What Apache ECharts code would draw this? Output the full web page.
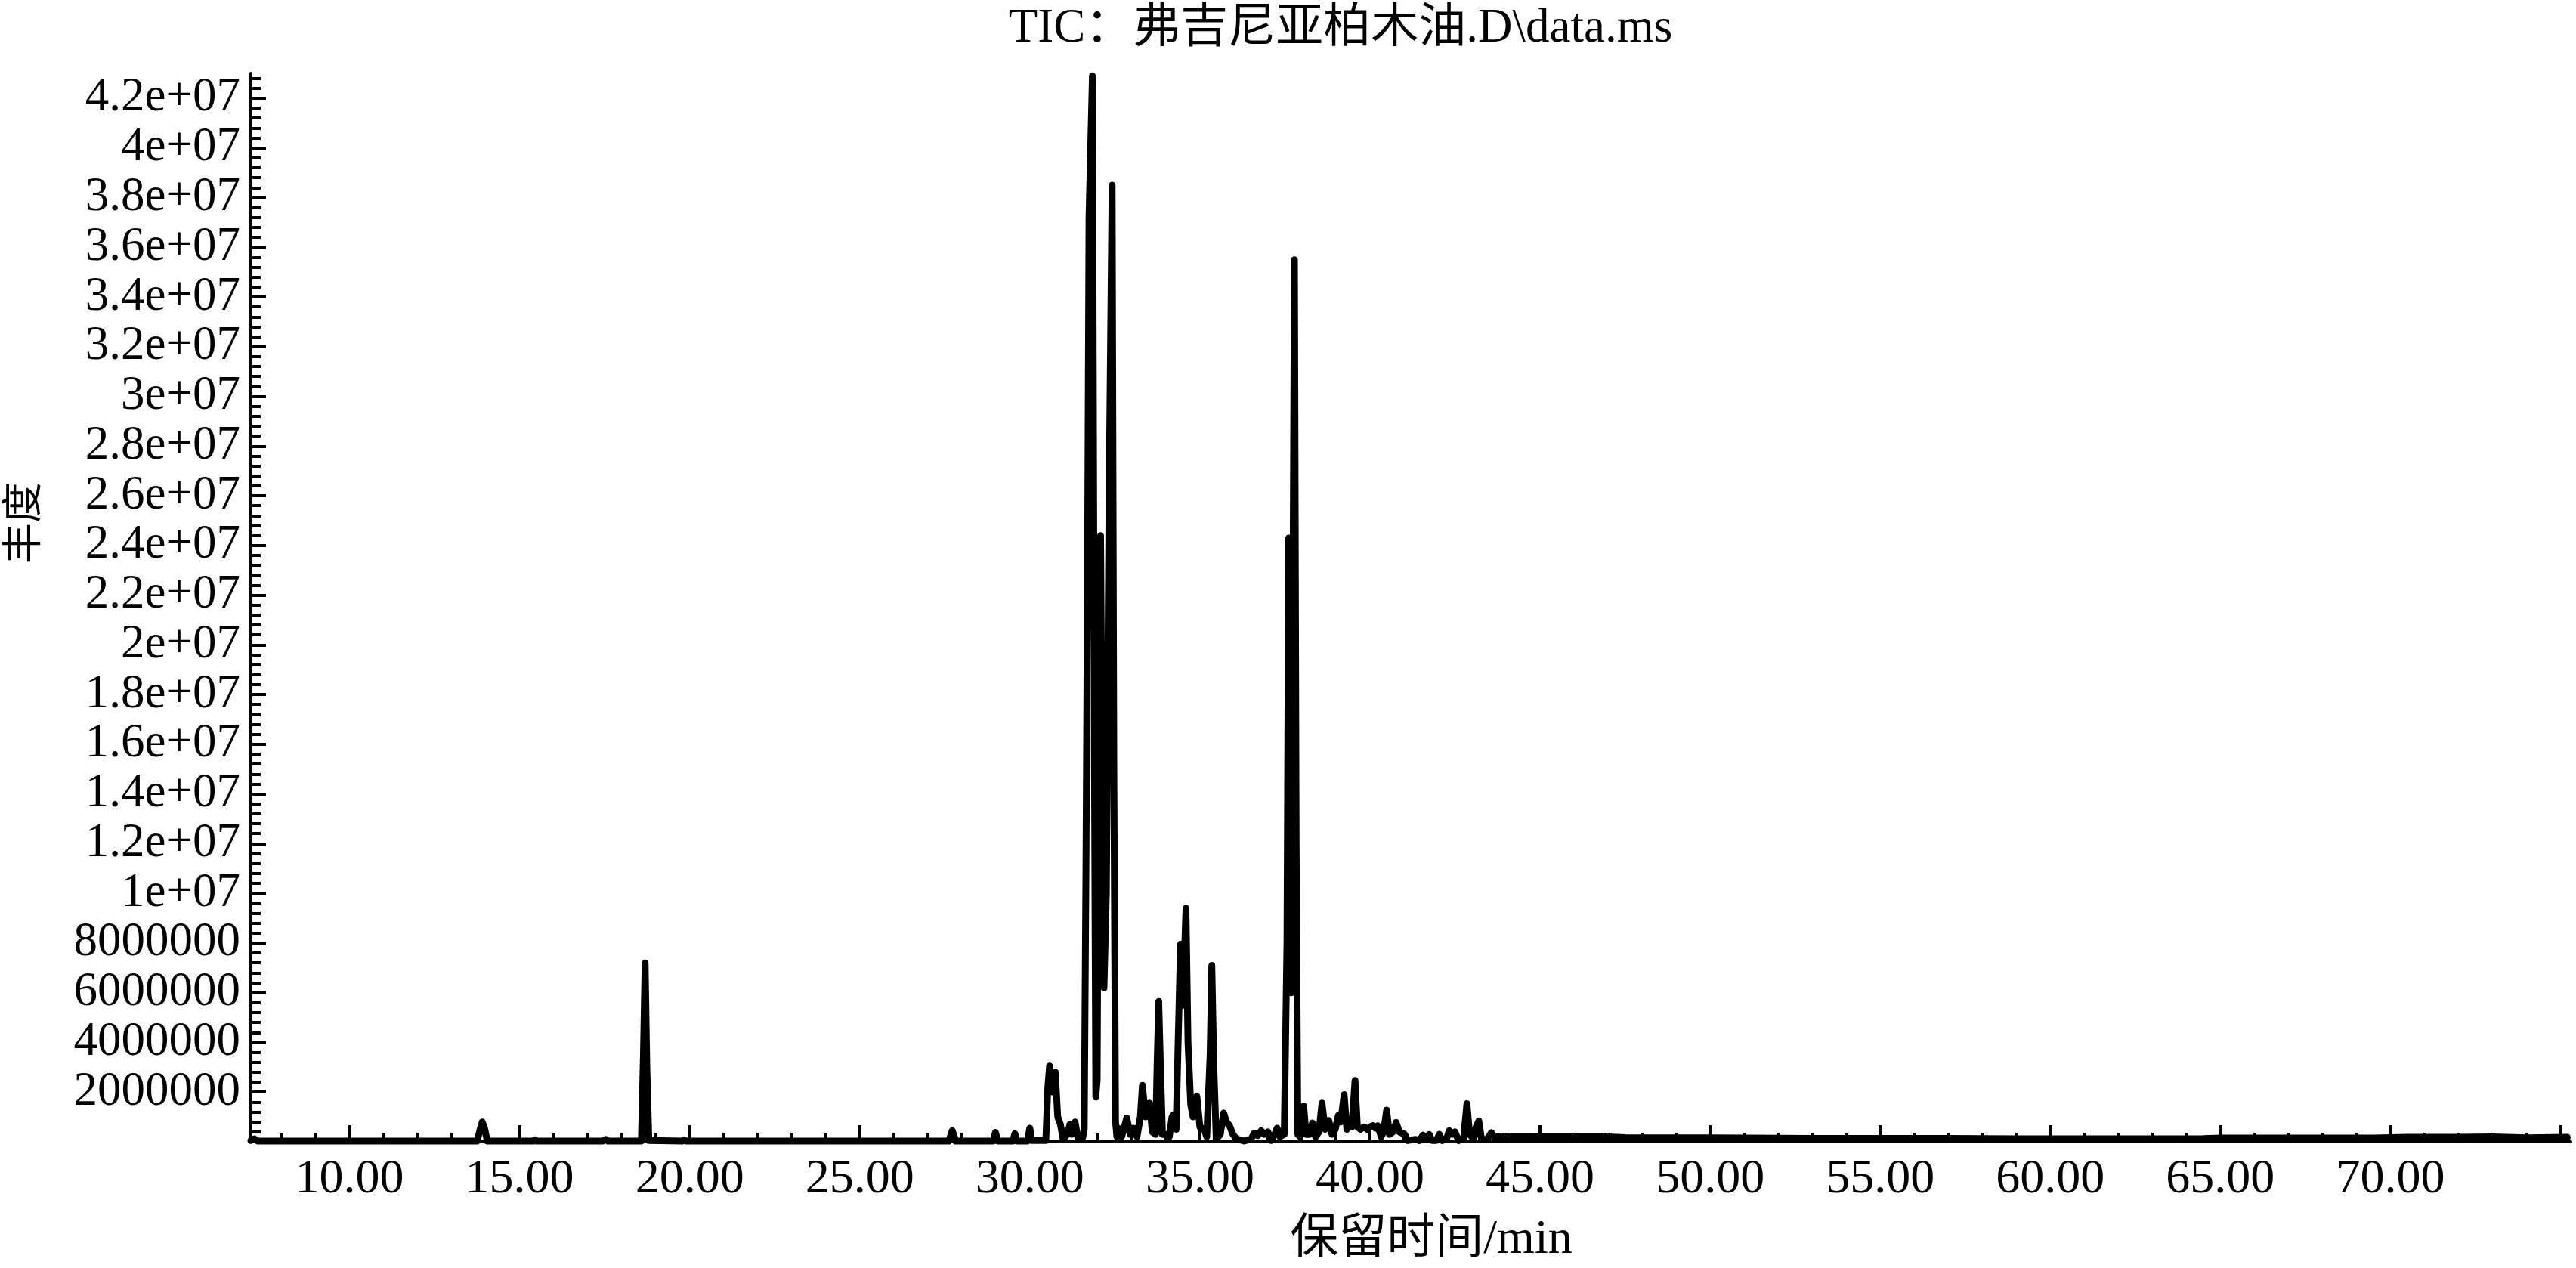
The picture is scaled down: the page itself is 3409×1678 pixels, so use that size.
<!DOCTYPE html>
<html>
<head>
<meta charset="utf-8">
<script src="https://cdn.jsdelivr.net/npm/echarts@6/dist/echarts.min.js"></script>
<style>html,body{margin:0;padding:0;background:#fff;}#c{width:3409px;height:1678px;}</style>
</head>
<body>
<div id="c"></div>
<script>
// ---- data ----
const chartTitle = 'TIC：弗吉尼亚柏木油.D\\data.ms';
const xName = '保留时间/min';
const yName = '丰度';

const retentionTime = [
  7.1, 7.2, 7.3, 13.75, 13.85, 13.9, 13.96, 14.05, 15.4, 15.45, 15.5, 17.45, 17.53, 17.6,
  18.58, 18.64, 18.69, 18.74, 18.8, 19.78, 19.83, 19.9, 27.62, 27.72, 27.82, 28.92, 28.99, 29.06,
  29.5, 29.56, 29.62, 29.93, 30.0, 30.06, 30.47, 30.53, 30.58, 30.68, 30.75, 30.82, 30.9, 30.98,
  31.1, 31.18, 31.24, 31.33, 31.42, 31.55, 31.6, 31.65, 31.7, 31.74, 31.84, 31.9, 31.94, 31.98,
  32.02, 32.08, 32.13, 32.18, 32.25, 32.33, 32.42, 32.47, 32.52, 32.56, 32.6, 32.7, 32.85, 32.95,
  33.05, 33.15, 33.25, 33.31, 33.4, 33.52, 33.6, 33.7, 33.74, 33.79, 33.84, 33.9, 34.02, 34.1,
  34.18, 34.22, 34.3, 34.36, 34.43, 34.5, 34.59, 34.65, 34.73, 34.8, 34.91, 35.0, 35.13, 35.2,
  35.3, 35.35, 35.41, 35.48, 35.6, 35.7, 35.78, 35.87, 35.97, 36.07, 36.3, 36.5, 36.6, 36.7,
  36.8, 36.9, 37.0, 37.1, 37.2, 37.27, 37.35, 37.48, 37.56, 37.61, 37.66, 37.69, 37.73, 37.78,
  37.83, 37.88, 37.95, 38.05, 38.12, 38.22, 38.31, 38.4, 38.5, 38.59, 38.68, 38.79, 38.88, 38.98,
  39.07, 39.14, 39.24, 39.32, 39.4, 39.47, 39.56, 39.63, 39.72, 39.83, 39.92, 40.0, 40.08, 40.16,
  40.23, 40.33, 40.4, 40.49, 40.57, 40.68, 40.77, 40.86, 41.02, 41.1, 41.34, 41.45, 41.56, 41.65,
  41.74, 41.82, 41.95, 42.04, 42.12, 42.25, 42.33, 42.42, 42.5, 42.6, 42.75, 42.85, 42.93, 43.05,
  43.12, 43.2, 43.28, 43.45, 43.57, 43.66, 43.72, 44.5, 47.0, 47.5, 50.0, 53.0, 55.0, 57.0,
  59.0, 62.0, 64.5, 65.0, 67.0, 69.5, 70.5, 72.0, 73.0, 74.0, 75.2
];
const abundance = [
  0.05e6, 0.12e6, 0.03e6, 0.03e6, 0.55e6, 0.8e6, 0.6e6, 0.03e6, 0.03e6, 0.08e6, 0.03e6, 0.03e6, 0.1e6, 0.03e6,
  0.03e6, 3.5e6, 7.2e6, 3.0e6, 0.05e6, 0.03e6, 0.08e6, 0.03e6, 0.03e6, 0.45e6, 0.03e6, 0.03e6, 0.38e6, 0.03e6,
  0.03e6, 0.33e6, 0.03e6, 0.03e6, 0.55e6, 0.05e6, 0.05e6, 2.2e6, 3.05e6, 2.0e6, 2.8e6, 1.0e6, 0.7e6, 0.1e6,
  0.3e6, 0.7e6, 0.3e6, 0.8e6, 0.1e6, 0.15e6, 0.5e6, 11e6, 24e6, 37.2e6, 42.9e6, 15e6, 1.8e6, 2.5e6,
  15e6, 24.4e6, 14e6, 6.2e6, 10e6, 26e6, 38.5e6, 15e6, 0.8e6, 0.2e6, 0.55e6, 0.2e6, 0.96e6, 0.3e6,
  0.55e6, 0.2e6, 1.0e6, 2.27e6, 1.0e6, 1.56e6, 0.4e6, 0.3e6, 3.0e6, 5.65e6, 3.0e6, 0.3e6, 0.3e6, 0.2e6,
  1.0e6, 1.08e6, 0.5e6, 4.0e6, 7.95e6, 5.5e6, 9.4e6, 4.0e6, 1.5e6, 1.0e6, 1.83e6, 0.6e6, 0.5e6, 0.2e6,
  3.5e6, 7.1e6, 3.0e6, 0.1e6, 0.3e6, 1.16e6, 0.8e6, 0.65e6, 0.3e6, 0.12e6, 0.03e6, 0.1e6, 0.35e6, 0.25e6,
  0.45e6, 0.3e6, 0.4e6, 0.05e6, 0.3e6, 0.55e6, 0.2e6, 0.3e6, 8e6, 24.3e6, 12e6, 6e6, 20e6, 35.5e6,
  12e6, 0.3e6, 0.2e6, 1.44e6, 0.3e6, 0.3e6, 0.76e6, 0.2e6, 0.4e6, 1.56e6, 0.5e6, 0.86e6, 0.3e6, 0.5e6,
  1.06e6, 0.8e6, 1.9e6, 0.5e6, 0.7e6, 0.6e6, 2.47e6, 0.6e6, 0.5e6, 0.6e6, 0.5e6, 0.6e6, 0.65e6, 0.55e6,
  0.65e6, 0.2e6, 0.4e6, 1.28e6, 0.3e6, 0.4e6, 0.78e6, 0.4e6, 0.3e6, 0.05e6, 0.1e6, 0.05e6, 0.27e6, 0.15e6,
  0.3e6, 0.05e6, 0.05e6, 0.3e6, 0.05e6, 0.1e6, 0.45e6, 0.3e6, 0.4e6, 0.05e6, 0.1e6, 1.54e6, 0.3e6, 0.1e6,
  0.6e6, 0.84e6, 0.1e6, 0.1e6, 0.37e6, 0.15e6, 0.2e6, 0.2e6, 0.2e6, 0.17e6, 0.16e6, 0.14e6, 0.14e6, 0.14e6,
  0.12e6, 0.12e6, 0.13e6, 0.15e6, 0.15e6, 0.15e6, 0.18e6, 0.18e6, 0.2e6, 0.16e6, 0.18e6
];

const xTickValues = [10, 15, 20, 25, 30, 35, 40, 45, 50, 55, 60, 65, 70, 75];
const xTickLabels = ['10.00', '15.00', '20.00', '25.00', '30.00', '35.00', '40.00', '45.00', '50.00', '55.00', '60.00', '65.00', '70.00', ''];
const yTickValues = [2e6, 4e6, 6e6, 8e6, 10e6, 12e6, 14e6, 16e6, 18e6, 20e6, 22e6, 24e6, 26e6, 28e6, 30e6, 32e6, 34e6, 36e6, 38e6, 40e6, 42e6];
const yTickLabels = ['2000000', '4000000', '6000000', '8000000', '1e+07', '1.2e+07', '1.4e+07', '1.6e+07', '1.8e+07', '2e+07', '2.2e+07', '2.4e+07', '2.6e+07', '2.8e+07', '3e+07', '3.2e+07', '3.4e+07', '3.6e+07', '3.8e+07', '4e+07', '4.2e+07'];

// ---- chart ----
const X_MIN = 7.1, X_MAX = 75.3, Y_MIN = 0, Y_MAX = 43e6;
const serif = '"Liberation Serif", "Times New Roman", "Noto Sans CJK SC", serif';

const xMinor = [];
for (let v = 8; v <= 75; v++) xMinor.push(v);
const yMinor = [];
for (let i = 0; i <= 107; i++) yMinor.push(i * 4e5);

const seriesData = retentionTime.map((t, i) => [t, abundance[i]]);

const chart = echarts.init(document.getElementById('c'), null, { renderer: 'canvas' });
chart.setOption({
  animation: false,
  backgroundColor: '#fff',
  title: {
    text: chartTitle,
    left: 1769, top: 2, textAlign: 'center',
    textStyle: { fontFamily: serif, fontSize: 63, fontWeight: 'normal', color: '#000' }
  },
  grid: { left: 327, right: 7, top: 97, bottom: 155, containLabel: false },
  xAxis: [
    {
      type: 'value', min: X_MIN, max: X_MAX, position: 'bottom',
      name: xName, nameLocation: 'middle', nameGap: 98,
      nameTextStyle: { fontFamily: serif, fontSize: 64, color: '#000', padding: [0, 0, 0, 54] },
      axisLine: { show: true, onZero: false, lineStyle: { color: '#000', width: 4 } },
      axisTick: { show: true, inside: true, length: 22, customValues: xTickValues, lineStyle: { color: '#000', width: 4 } },
      axisLabel: {
        show: true, customValues: xTickValues.slice(0, 13), margin: 18,
        fontFamily: serif, fontSize: 64, color: '#000',
        formatter: v => xTickLabels[xTickValues.indexOf(Math.round(v))] || ''
      },
      splitLine: { show: false }
    },
    {
      type: 'value', min: X_MIN, max: X_MAX, position: 'bottom',
      axisLine: { show: false },
      axisTick: { show: true, inside: true, length: 12, customValues: xMinor, lineStyle: { color: '#000', width: 4 } },
      axisLabel: { show: false },
      splitLine: { show: false }
    }
  ],
  yAxis: [
    {
      type: 'value', min: Y_MIN, max: Y_MAX, position: 'left',
      name: yName, nameLocation: 'middle', nameGap: 270, nameRotate: 90,
      nameTextStyle: { fontFamily: serif, fontSize: 54, color: '#000', padding: [0, 0, 0, 224] },
      axisLine: { show: true, onZero: false, lineStyle: { color: '#000', width: 4 } },
      axisTick: { show: true, inside: true, length: 20, customValues: yTickValues, lineStyle: { color: '#000', width: 4 } },
      axisLabel: {
        show: true, customValues: yTickValues, margin: 14,
        fontFamily: serif, fontSize: 63, fontWeight: 'normal', color: '#000',
        formatter: v => { const i = yTickValues.findIndex(t => Math.abs(t - v) < 1); return i >= 0 ? yTickLabels[i] : ''; }
      },
      splitLine: { show: false }
    },
    {
      type: 'value', min: Y_MIN, max: Y_MAX, position: 'left',
      axisLine: { show: false },
      axisTick: { show: true, inside: true, length: 13, customValues: yMinor, lineStyle: { color: '#000', width: 4 } },
      axisLabel: { show: false },
      splitLine: { show: false }
    }
  ],
  series: [{
    type: 'line',
    xAxisIndex: 0, yAxisIndex: 0,
    data: seriesData,
    showSymbol: false,
    symbol: 'none',
    lineStyle: { color: '#000', width: 9, cap: 'round', join: 'round' },
    clip: true
  }]
});
</script>
</body>
</html>
